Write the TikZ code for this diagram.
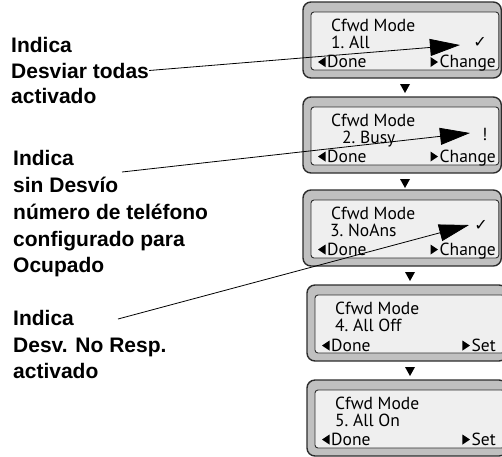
\documentclass[tikz,border=0pt]{standalone}
\usepackage{fontspec}
\setmainfont{Liberation Sans}
\newfontfamily\scrfont{PT Sans}
\newfontfamily\symfont{DejaVu Sans}
\usetikzlibrary{arrows.meta,calc}

\definecolor{framegray}{RGB}{192,192,192}
\definecolor{screenbg}{RGB}{239,239,239}
\definecolor{edgecol}{RGB}{45,45,45}

\newcommand\lcdscreen[3]{% #1 left, #2 top, #3 right
  \draw[scrframe] (#1,#2) rectangle (#3,#2+76);
  \draw[lcdpanel] (#1+8,#2+10) rectangle (#3-2.5,#2+68);
}
% soft-key triangles placed just left of a text node (#1 node name)
\newcommand\lkey[1]{%
  \fill ($(#1.base west)+(-9,-5.5)$) -- ($(#1.base west)+(-1.5,-10.5)$) -- ($(#1.base west)+(-1.5,-0.5)$) -- cycle;}
\newcommand\rkey[1]{%
  \fill ($(#1.base west)+(-1.5,-5.5)$) -- ($(#1.base west)+(-9,-10.5)$) -- ($(#1.base west)+(-9,-0.5)$) -- cycle;}

\tikzset{
  scrframe/.style={fill=framegray, draw=edgecol, line width=1.4pt, rounded corners=8pt},
  lcdpanel/.style={fill=screenbg, draw=edgecol, line width=0.9pt, rounded corners=3pt},
  lcdtext/.style={font=\scrfont\fontsize{17.5}{19}\selectfont, inner sep=0pt, anchor=base west},
  lcdright/.style={lcdtext, anchor=base east},
  marksym/.style={font=\symfont\fontsize{16}{16}\selectfont, inner sep=0pt},
  lbl/.style={font=\bfseries\fontsize{21}{24}\selectfont, inner sep=0pt, anchor=base west},
  pointer/.style={line width=0.8pt, -{Triangle[length=30pt,width=17pt]}},
  downtri/.style={fill=black},
}

\begin{document}
\begin{tikzpicture}[x=1pt,y=-1pt]
\clip (0,0) rectangle (502,456);
\fill[white] (0,0) rectangle (502,456);

% screens
\lcdscreen{303}{2}{501.3}
\lcdscreen{303}{97}{501.3}
\lcdscreen{303}{190}{501.3}
\lcdscreen{307}{285}{507}
\lcdscreen{307}{380}{507}

% down triangles
\fill[downtri] (400,84) -- (410,84) -- (405,93) -- cycle;
\fill[downtri] (400,179) -- (410,179) -- (405,188) -- cycle;
\fill[downtri] (405,272) -- (415,272) -- (410,281) -- cycle;
\fill[downtri] (405,367) -- (415,367) -- (410,376) -- cycle;

% screen 1
\node[lcdtext] (s1a) at (331,31.5) {Cfwd Mode};
\node[lcdtext] (s1b) at (331,48.5) {1.\ All};
\node[lcdtext] (s1c) at (327,67.5) {Done};
\node[lcdright] (s1d) at (496,67.5) {Change};
\node[marksym] (ck1) at (480,42) {✓};
\lkey{s1c}\rkey{s1d}

% screen 2
\node[lcdtext] (s2a) at (331,126.5) {Cfwd Mode};
\node[lcdtext] (s2b) at (342,143.5) {2.\ Busy};
\node[lcdtext] (s2c) at (327,162) {Done};
\node[lcdright] (s2d) at (496,162) {Change};
\node[lcdtext] (ck2) at (482,140) {!};
\lkey{s2c}\rkey{s2d}

% screen 3
\node[lcdtext] (s3a) at (331,219.5) {Cfwd Mode};
\node[lcdtext] (s3b) at (330,236.5) {3.\ NoAns};
\node[lcdtext] (s3c) at (327,255) {Done};
\node[lcdright] (s3d) at (496,255) {Change};
\node[marksym] (ck3) at (481,225) {✓};
\lkey{s3c}\rkey{s3d}

% screen 4
\node[lcdtext] (s4a) at (335,314.5) {Cfwd Mode};
\node[lcdtext] (s4b) at (335,331.5) {4.\ All Off};
\node[lcdtext] (s4c) at (331,351) {Done};
\node[lcdright] (s4d) at (496,351) {Set};
\lkey{s4c}\rkey{s4d}

% screen 5
\node[lcdtext] (s5a) at (335,409.5) {Cfwd Mode};
\node[lcdtext] (s5b) at (335,426.5) {5.\ All On};
\node[lcdtext] (s5c) at (331,445) {Done};
\node[lcdright] (s5d) at (496,445) {Set};
\lkey{s5c}\rkey{s5d}

% left labels
\node[lbl] (t1a) at (11,52) {Indica};
\node[lbl] (t1b) at (11,78) {Desviar todas};
\node[lbl] (t1c) at (11,103) {activado};

\node[lbl] (t2a) at (13,165) {Indica};
\node[lbl] (t2b) at (13,192) {sin Desvío};
\node[lbl] (t2c) at (13,219) {número de teléfono};
\node[lbl] (t2d) at (13,246) {configurado para};
\node[lbl] (t2e) at (13,272) {Ocupado};

\node[lbl] (t3a) at (13,325) {Indica};
\node[lbl] (t3b) at (13,352) {Desv. No Resp.};
\node[lbl] (t3c) at (13,378) {activado};

% pointer lines
\coordinate (c2) at (122,172);
\coordinate (c3) at (118,319);
\coordinate (p1) at (460,45);
\coordinate (p2) at (470,133);
\coordinate (p3) at (469,225);
\draw[pointer] (t1b.east) -- (p1);
\draw[pointer] (c2) -- (p2);
\draw[pointer] (c3) -- (p3);
\end{tikzpicture}
\end{document}
